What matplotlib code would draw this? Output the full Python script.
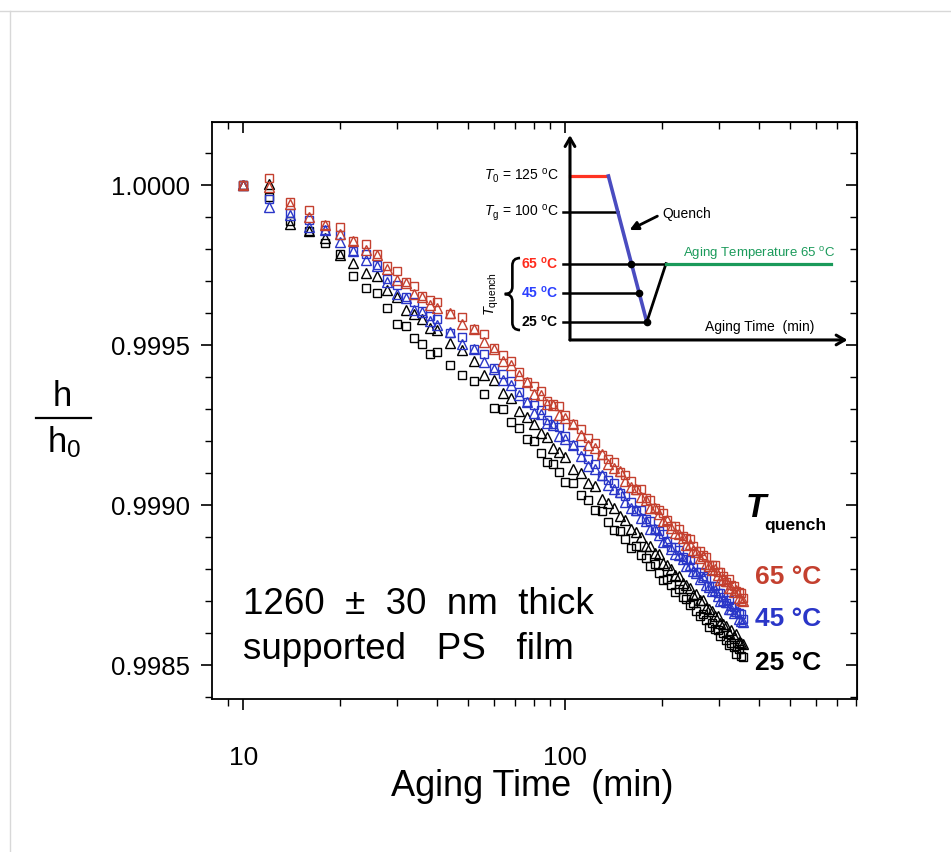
import numpy as np
import matplotlib.pyplot as plt
from matplotlib.lines import Line2D
from matplotlib.path import Path
from matplotlib.patches import PathPatch
from matplotlib.ticker import FixedLocator, NullFormatter, FixedFormatter, MultipleLocator, FormatStrFormatter

plt.rcParams['font.family'] = ['Liberation Sans', 'DejaVu Sans']
plt.rcParams['mathtext.fontset'] = 'custom'
plt.rcParams['mathtext.rm'] = 'Liberation Sans'
plt.rcParams['mathtext.it'] = 'Liberation Sans:italic'
plt.rcParams['mathtext.bf'] = 'Liberation Sans:bold'

# aging time (min)
time_min = [10, 12, 14, 16, 18, 20, 22, 24, 26, 28, 30, 32, 34, 36, 38, 40,
            44, 48, 52, 56, 60, 64, 68, 72, 76, 80, 84, 88, 92, 96, 100,
            106, 112, 118, 124, 130, 136, 142, 148, 154, 160, 166, 172, 178,
            184, 190, 196, 202, 208, 214, 220, 226, 232, 238, 244, 250, 256,
            262, 268, 274, 280, 286, 292, 298, 304, 310, 316, 322, 328, 334,
            340, 346, 352, 358]

# 1 - h/h0, in units of 1e-6
red_sq_ppm = [0, -22, 53, 78, 125, 131, 175, 184, 216, 253, 269, 303, 316, 347, 359, 366,
              403, 413, 450, 466, 509, 531, 550, 584, 616, 628, 644, 675, 684, 691, 719,
              747, 763, 791, 806, 844, 856, 866, 897, 906, 925, 953, 950, 978, 984, 1009,
              1016, 1025, 1047, 1066, 1066, 1075, 1097, 1103, 1106, 1128, 1144, 1144, 1156,
              1163, 1188, 1188, 1188, 1209, 1209, 1222, 1241, 1231, 1250, 1253, 1269, 1272,
              1275, 1291]
red_tri_ppm = [0, 6, 59, 100, 125, 153, 175, 203, 219, 263, 297, 306, 341, 350, 375, 384,
               400, 434, 450, 491, 513, 550, 563, 594, 616, 653, 656, 684, 688, 719, 728,
               747, 781, 813, 822, 841, 872, 884, 894, 925, 944, 950, 975, 984, 1009, 1009,
               1028, 1050, 1047, 1072, 1088, 1091, 1103, 1125, 1122, 1141, 1147, 1166, 1159,
               1184, 1191, 1203, 1200, 1219, 1234, 1231, 1238, 1259, 1259, 1272, 1266, 1291,
               1297, 1300]
blue_sq_ppm = [0, 44, 88, 109, 141, 156, 206, 216, 250, 294, 313, 350, 366, 394, 409, 419,
               463, 475, 513, 528, 572, 591, 613, 647, 678, 688, 703, 734, 747, 756, 784,
               813, 828, 856, 872, 909, 922, 931, 963, 972, 991, 1019, 1016, 1044, 1050, 1075,
               1081, 1091, 1113, 1131, 1131, 1141, 1163, 1169, 1172, 1194, 1209, 1209, 1222,
               1228, 1253, 1253, 1253, 1275, 1275, 1288, 1306, 1297, 1316, 1319, 1334, 1338,
               1341, 1356]
blue_tri_ppm = [0, 69, 94, 131, 141, 178, 206, 234, 253, 303, 341, 353, 391, 397, 425, 438,
                459, 497, 513, 553, 575, 609, 625, 656, 678, 713, 716, 744, 750, 784, 794,
                813, 847, 878, 888, 906, 938, 950, 959, 991, 1009, 1016, 1041, 1050, 1075, 1075,
                1094, 1116, 1113, 1138, 1153, 1156, 1169, 1191, 1188, 1206, 1213, 1231, 1225,
                1250, 1256, 1269, 1266, 1284, 1300, 1297, 1303, 1325, 1325, 1338, 1331, 1356,
                1363, 1366]
black_sq_ppm = [0, 38, 113, 144, 181, 216, 284, 322, 338, 384, 434, 441, 478, 497, 528, 522,
                563, 594, 613, 653, 697, 700, 741, 759, 794, 800, 838, 866, 872, 897, 928,
                931, 969, 984, 1016, 1019, 1053, 1078, 1081, 1106, 1134, 1128, 1156, 1166, 1191,
                1184, 1213, 1234, 1231, 1250, 1272, 1263, 1288, 1294, 1313, 1306, 1331, 1347,
                1341, 1359, 1381, 1369, 1388, 1391, 1409, 1400, 1422, 1438, 1431, 1444, 1466,
                1450, 1472, 1475]
black_tri_ppm = [0, -3, 122, 144, 166, 219, 244, 275, 284, 328, 350, 391, 403, 419, 447, 453,
                 494, 516, 550, 594, 609, 650, 666, 706, 725, 747, 775, 788, 822, 834, 850,
                 888, 900, 931, 941, 981, 994, 1009, 1034, 1047, 1075, 1084, 1100, 1128, 1128,
                 1150, 1153, 1181, 1188, 1200, 1219, 1222, 1244, 1250, 1259, 1281, 1278, 1297,
                 1297, 1322, 1325, 1331, 1347, 1347, 1369, 1372, 1378, 1400, 1391, 1409, 1403,
                 1428, 1431, 1434]

quench_labels = ['65 °C', '45 °C', '25 °C']
quench_colors = ['#c4402f', '#2a36c8', 'black']

# schematic thermal history for the inset (arbitrary time units, deg C)
T0, Tg = 125, 100
quench_T = [65, 45, 25]
inset_colors = ['#ff2b1c', '#2b40ff', 'black']
hold_t = [0, 4]
quench_t = [4, 8]
reheat_t = [8, 10]
aging_t = [10, 27.2]
cross_t = [6.4, 7.2, 8.0]        # where the quench line crosses each T_quench
level_end_t = [10, 7.2, 8.0]     # end of the black guide at each T_quench
tg_end_t = 5.0


def to_h(ppm):
    return 1.0 - np.array(ppm) * 1e-6


def left_brace(ax, xr, xm, xl, top, bottom, r=5, **kw):
    mid = 0.5 * (top + bottom)
    verts = [(xr, top), (xm, top), (xm, top - r), (xm, mid + r), (xm, mid), (xl, mid),
             (xm, mid), (xm, mid - r), (xm, bottom + r), (xm, bottom), (xr, bottom)]
    codes = [Path.MOVETO, Path.CURVE3, Path.CURVE3, Path.LINETO, Path.CURVE3, Path.CURVE3,
             Path.CURVE3, Path.CURVE3, Path.LINETO, Path.CURVE3, Path.CURVE3]
    ax.add_patch(PathPatch(Path(verts, codes), fill=False, clip_on=False, **kw))


fig = plt.figure(figsize=(9.51, 8.52), dpi=100)
ax = fig.add_axes([0.2229, 0.1796, 0.6782, 0.6772])

t = np.array(time_min)
series = [
    (black_sq_ppm, 's', 'black'), (black_tri_ppm, '^', 'black'),
    (blue_sq_ppm, 's', quench_colors[1]), (blue_tri_ppm, '^', quench_colors[1]),
    (red_sq_ppm, 's', quench_colors[0]), (red_tri_ppm, '^', quench_colors[0]),
]
for ppm, mk, col in series:
    ms = 5.8 if mk == 's' else 7.4
    ax.plot(t, to_h(ppm), linestyle='none', marker=mk, ms=ms, mfc='none',
            mec=col, mew=1.0)

ax.set_xscale('log')
ax.set_xlim(8.0, 807)
ax.set_ylim(0.998394, 1.000197)

minor_x = [9, 20, 30, 40, 50, 60, 70, 80, 90, 200, 300, 400, 500, 600, 700, 800]
ax.xaxis.set_major_locator(FixedLocator([10, 100]))
ax.xaxis.set_major_formatter(FixedFormatter(['10', '100']))
ax.xaxis.set_minor_locator(FixedLocator(minor_x))
ax.xaxis.set_minor_formatter(NullFormatter())
ax.yaxis.set_major_locator(MultipleLocator(0.0005))
ax.yaxis.set_major_formatter(FormatStrFormatter('%.4f'))
ax.yaxis.set_minor_locator(MultipleLocator(0.0001))

ax.tick_params(which='major', direction='out', length=8, width=1.2, labelsize=18.5,
               colors='black')
ax.tick_params(which='minor', direction='out', length=5, width=1.0)
ax.tick_params(axis='x', which='major', pad=26, labelsize=19)
ax.tick_params(axis='y', which='major', pad=8)
for sp in ax.spines.values():
    sp.set_linewidth(1.3)

secx = ax.secondary_xaxis('top')
secx.xaxis.set_major_locator(FixedLocator([10, 100]))
secx.xaxis.set_minor_locator(FixedLocator(minor_x))
secx.xaxis.set_major_formatter(NullFormatter())
secx.xaxis.set_minor_formatter(NullFormatter())
secx.tick_params(which='major', direction='in', length=8, width=1.2)
secx.tick_params(which='minor', direction='in', length=5, width=1.0)

secy = ax.secondary_yaxis('right')
secy.yaxis.set_major_locator(MultipleLocator(0.0005))
secy.yaxis.set_minor_locator(MultipleLocator(0.0001))
secy.yaxis.set_major_formatter(NullFormatter())
secy.tick_params(which='major', direction='in', length=8, width=1.2)
secy.tick_params(which='minor', direction='in', length=5, width=1.0)

# axis titles
fig.text(532 / 951, 1 - 786 / 852, 'Aging Time  (min)', ha='center', va='center',
         fontsize=26)
fig.text(62 / 951, 1 - 396 / 852, 'h', ha='center', va='center', fontsize=25)
fig.add_artist(Line2D([36 / 951, 91 / 951], [1 - 418 / 852] * 2, color='black', lw=1.6))
fig.text(64 / 951, 1 - 442 / 852, r'h$_\mathregular{0}$', ha='center', va='center',
         fontsize=25)

# annotations in the plot
ax.text(0.048, 0.163, '1260  ±  30  nm  thick', transform=ax.transAxes,
        fontsize=26.5, ha='left', va='center')
ax.text(0.048, 0.085, 'supported   PS   film', transform=ax.transAxes,
        fontsize=26.5, ha='left', va='center')
ax.text(0.843, 0.330, 'T', transform=ax.transAxes, fontsize=24, weight='bold',
        style='italic', ha='center', va='center')
ax.text(0.857, 0.300, 'quench', transform=ax.transAxes, fontsize=12.5, weight='bold',
        ha='left', va='center')
for lab, col, yy in zip(quench_labels, quench_colors, [0.211, 0.139, 0.062]):
    ax.text(0.842, yy, lab, transform=ax.transAxes, fontsize=19, weight='bold',
            color=col, ha='left', va='center')

# inset: thermal history schematic
ax_in = fig.add_axes([560 / 951, 1 - 345 / 852, 300 / 951, 215 / 852])
ax_in.set_xlim(-1.04, 30.2)
ax_in.set_ylim(9.25, 156.5)
ax_in.axis('off')

arrow = dict(arrowstyle='->,head_width=0.35,head_length=0.6', lw=2.2, color='black',
             shrinkA=0, shrinkB=0)
ax_in.annotate('', xy=(0, 153), xytext=(0, 12.7), arrowprops=arrow)
ax_in.annotate('', xy=(28.9, 12.7), xytext=(0, 12.7), arrowprops=arrow)

ax_in.plot([-0.7, tg_end_t], [Tg, Tg], color='black', lw=1.8)
for Tq, te in zip(quench_T, level_end_t):
    ax_in.plot([-0.7, te], [Tq, Tq], color='black', lw=1.8)
ax_in.plot(hold_t, [T0, T0], color='#ff3322', lw=2.3)
ax_in.plot(quench_t, [T0, quench_T[-1]], color='#4a4cc0', lw=2.6)
ax_in.plot(reheat_t, [quench_T[-1], quench_T[0]], color='black', lw=2.0)
ax_in.plot(aging_t, [quench_T[0], quench_T[0]], color='#1a9a5a', lw=2.3)
ax_in.plot(cross_t, quench_T, linestyle='none', marker='o', ms=4.5, color='black')

ax_in.text(9.6, 99, 'Quench', fontsize=10, ha='left', va='center')
ax_in.annotate('', xy=(6.2, 88), xytext=(9.1, 97.5),
               arrowprops=dict(arrowstyle='-|>,head_width=0.25,head_length=0.5',
                               lw=2.0, color='black', shrinkA=0, shrinkB=0))
ax_in.text(11.8, 72, r'Aging Temperature 65 $^\mathregular{o}$C', fontsize=9.5,
           color='#1a9a5a', ha='left', va='center')
ax_in.text(14.1, 21.5, 'Aging Time  (min)', fontsize=10, ha='left', va='center')

ax_in.text(-1.2, T0, r'$T_0$ = 125 $^\mathregular{o}$C', fontsize=10, ha='right',
           va='center')
ax_in.text(-1.2, Tg, r'$T_\mathregular{g}$ = 100 $^\mathregular{o}$C', fontsize=10,
           ha='right', va='center')
for Tq, col in zip(quench_T, inset_colors):
    ax_in.text(-1.2, Tq, r'%d $^\mathbf{o}$C' % Tq, fontsize=10, weight='bold',
               color=col, ha='right', va='center')
left_brace(ax_in, -5.2, -6.0, -6.8, 68.8, 19.5, r=5, lw=1.9, edgecolor='black')
ax_in.text(-8.1, 44, r'$T_\mathregular{quench}$', fontsize=10.5, rotation=90,
           ha='center', va='center')

# light slide frame lines
fig.add_artist(Line2D([0, 1], [1 - 11 / 852] * 2, color='#d8d8d8', lw=1))
fig.add_artist(Line2D([10 / 951] * 2, [0, 1 - 11 / 852], color='#d8d8d8', lw=1))

fig.savefig('out.png', dpi=100)
